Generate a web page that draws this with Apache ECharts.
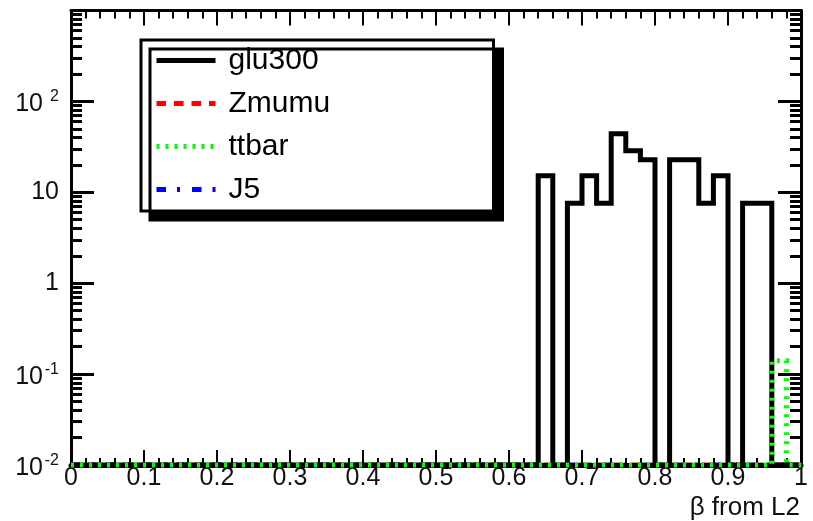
<!DOCTYPE html>
<html>
<head>
<meta charset="utf-8">
<script src="https://cdn.jsdelivr.net/npm/echarts@6/dist/echarts.min.js"></script>
<style>
  html, body { margin: 0; padding: 0; background: #ffffff; }
  #chart { width: 813px; height: 521px; }
</style>
</head>
<body>
<div id="chart"></div>
<script>
// Histogram binning: 50 bins of beta over [0, 1]
const nBins = 50;
const xLow = 0;
const xHigh = 1;

// Bin contents, one entry per bin (0.00-0.02, 0.02-0.04, ...)
const glu300 = [
  0, 0, 0, 0, 0, 0, 0, 0, 0, 0,
  0, 0, 0, 0, 0, 0, 0, 0, 0, 0,
  0, 0, 0, 0, 0, 0, 0, 0, 0, 0,
  0, 0, 15.2, 0, 7.6, 15.2, 7.6, 44, 28.6, 22.8,
  0, 22.8, 22.8, 7.6, 15.2, 0, 7.6, 7.6, 0, 0
];
const Zmumu = [
  0, 0, 0, 0, 0, 0, 0, 0, 0, 0,
  0, 0, 0, 0, 0, 0, 0, 0, 0, 0,
  0, 0, 0, 0, 0, 0, 0, 0, 0, 0,
  0, 0, 0, 0, 0, 0, 0, 0, 0, 0,
  0, 0, 0, 0, 0, 0, 0, 0, 0, 0
];
const ttbar = [
  0, 0, 0, 0, 0, 0, 0, 0, 0, 0,
  0, 0, 0, 0, 0, 0, 0, 0, 0, 0,
  0, 0, 0, 0, 0, 0, 0, 0, 0, 0,
  0, 0, 0, 0, 0, 0, 0, 0, 0, 0,
  0, 0, 0, 0, 0, 0, 0, 0, 0.14, 0
];
const J5 = [
  0, 0, 0, 0, 0, 0, 0, 0, 0, 0,
  0, 0, 0, 0, 0, 0, 0, 0, 0, 0,
  0, 0, 0, 0, 0, 0, 0, 0, 0, 0,
  0, 0, 0, 0, 0, 0, 0, 0, 0, 0,
  0, 0, 0, 0, 0, 0, 0, 0, 0, 0
];

const legendNames = ['glu300', 'Zmumu', 'ttbar', 'J5'];

// Log y axis range and labelled decades (base, exponent)
const yMin = 0.01;
const yMax = 1000;
const yTickValues = [0.01, 0.1, 1, 10, 100];
const yTickText = [['10', '-2'], ['10', '-1'], ['1', ''], ['10', ''], ['10', '2']];
const yFrameTicks = [0.01, 0.1, 1, 10, 100, 1000];
const xAxisTitle = 'β from L2';

// Minor log ticks at 2..9 within each decade
const yMinorValues = [];
for (let e = -2; e < 3; e++) {
  for (let m = 2; m <= 9; m++) yMinorValues.push(m * Math.pow(10, e));
}

const FONT = 'Liberation Sans, Arial, Helvetica, sans-serif';
const TXT = '#111111';

// Step outline of a histogram; empty bins sit on the axis floor
function histPoints(contents) {
  const w = (xHigh - xLow) / nBins;
  const pts = [];
  for (let i = 0; i < nBins; i++) {
    pts.push([xLow + i * w, contents[i] > 0 ? contents[i] : yMin]);
  }
  const last = contents[nBins - 1];
  pts.push([xHigh, last > 0 ? last : yMin]);
  return pts;
}

function yLabel(value) {
  const lv = Math.log10(value);
  const idx = yTickValues.findIndex(v => Math.abs(Math.log10(v) - lv) < 1e-6);
  if (idx < 0) return '';
  const t = yTickText[idx];
  return t[1] ? '{b|' + t[0] + '}{s|' + t[1] + '}' : '{p|' + t[0] + '}';
}

const lineBase = {
  type: 'line', step: 'end', symbol: 'none', showSymbol: false,
  clip: false, animation: false, silent: true,
  xAxisIndex: 0, yAxisIndex: 0
};

function styled(color, type) {
  return { color: color, width: 5, type: type, cap: 'butt', join: 'miter' };
}

const frameTick = (len, w) => ({ show: true, inside: true, length: len, lineStyle: { color: '#000', width: w } });
const frameLine = (w) => ({ show: true, onZero: false, lineStyle: { color: '#000', width: w } });
const noLine = { show: false, onZero: false };

const option = {
  animation: false,
  backgroundColor: '#ffffff',
  grid: { left: 71, right: 12, top: 10.5, bottom: 56, containLabel: false, outerBoundsMode: 'none' },
  legend: {
    data: legendNames,
    orient: 'vertical',
    left: 141, top: 40,
    padding: [5.5, 5, 6.5, 13],
    itemWidth: 59, itemHeight: 20, itemGap: 13,
    backgroundColor: '#ffffff',
    borderColor: '#000000', borderWidth: 3, borderRadius: 0,
    shadowColor: '#000000', shadowBlur: 0, shadowOffsetX: 9, shadowOffsetY: 9,
    selectedMode: false,
    lineStyle: { width: 5 },
    itemStyle: { opacity: 0, color: 'rgba(0,0,0,0)', borderWidth: 0 },
    textStyle: {
      fontSize: 30, lineHeight: 30, color: '#000', fontFamily: FONT,
      width: 260, padding: [0, 0, 0, 8]
    }
  },
  xAxis: [
    {
      type: 'value', min: xLow, max: xHigh, interval: 0.1, position: 'bottom', z: 1,
      axisLine: frameLine(5),
      axisTick: frameTick(15, 2),
      minorTick: { show: true, splitNumber: 5, length: 7, lineStyle: { color: '#000', width: 2 } },
      splitLine: { show: false }, minorSplitLine: { show: false },
      axisLabel: { margin: 1, fontSize: 25, lineHeight: 25, fontFamily: FONT, color: TXT },
      name: xAxisTitle, nameLocation: 'end', nameGap: 0, nameMoveOverlap: false,
      nameTextStyle: {
        fontSize: 26, lineHeight: 26, fontFamily: FONT, color: TXT,
        align: 'right', verticalAlign: 'top', padding: [30, 1, 0, 0]
      }
    },
    {
      type: 'value', min: xLow, max: xHigh, interval: 0.1, position: 'top',
      axisLine: frameLine(3),
      axisTick: frameTick(15, 2),
      minorTick: { show: true, splitNumber: 5, length: 8, lineStyle: { color: '#000', width: 2 } },
      splitLine: { show: false }, minorSplitLine: { show: false },
      axisLabel: { show: false }
    }
  ],
  yAxis: [
    {
      type: 'log', logBase: 10, min: yMin, max: yMax, position: 'left',
      axisLine: frameLine(3),
      axisTick: Object.assign(frameTick(23, 3), { customValues: yTickValues }),
      splitLine: { show: false },
      axisLabel: {
        customValues: yTickValues, margin: 12, formatter: yLabel,
        fontFamily: FONT, color: TXT,
        rich: {
          b: { fontSize: 25, lineHeight: 25, padding: [6, 0, 0, 0], fontFamily: FONT, color: TXT },
          s: { fontSize: 16, lineHeight: 16, width: 16, align: 'right', verticalAlign: 'top', fontFamily: FONT, color: TXT },
          p: { fontSize: 25, lineHeight: 25, fontFamily: FONT, color: TXT }
        }
      }
    },
    {
      type: 'log', logBase: 10, min: yMin, max: yMax, position: 'left',
      axisLine: noLine,
      axisTick: Object.assign(frameTick(11, 3), { customValues: yMinorValues }),
      splitLine: { show: false }, axisLabel: { show: false }
    },
    {
      type: 'log', logBase: 10, min: yMin, max: yMax, position: 'right',
      axisLine: frameLine(3),
      axisTick: Object.assign(frameTick(23, 3), { customValues: yFrameTicks }),
      splitLine: { show: false }, axisLabel: { show: false }
    },
    {
      type: 'log', logBase: 10, min: yMin, max: yMax, position: 'right',
      axisLine: noLine,
      axisTick: Object.assign(frameTick(11, 3), { customValues: yMinorValues }),
      splitLine: { show: false }, axisLabel: { show: false }
    }
  ],
  series: [
    Object.assign({}, lineBase, { name: 'Zmumu', z: 0, color: '#ff0000', data: histPoints(Zmumu), lineStyle: styled('#ff0000', [9.5, 8]) }),
    Object.assign({}, lineBase, { name: 'J5', z: 0, color: '#0000ff', data: histPoints(J5), lineStyle: styled('#0000ff', [9.5, 11, 3, 12]) }),
    Object.assign({}, lineBase, { name: 'glu300', z: 2, color: '#000000', data: histPoints(glu300), lineStyle: styled('#000000', 'solid') }),
    Object.assign({}, lineBase, { name: 'ttbar', z: 3, color: '#00ff00', data: histPoints(ttbar), lineStyle: styled('#00ff00', [3, 6]) })
  ]
};

const chart = echarts.init(document.getElementById('chart'), null, { renderer: 'canvas' });
chart.setOption(option);
</script>
</body>
</html>
